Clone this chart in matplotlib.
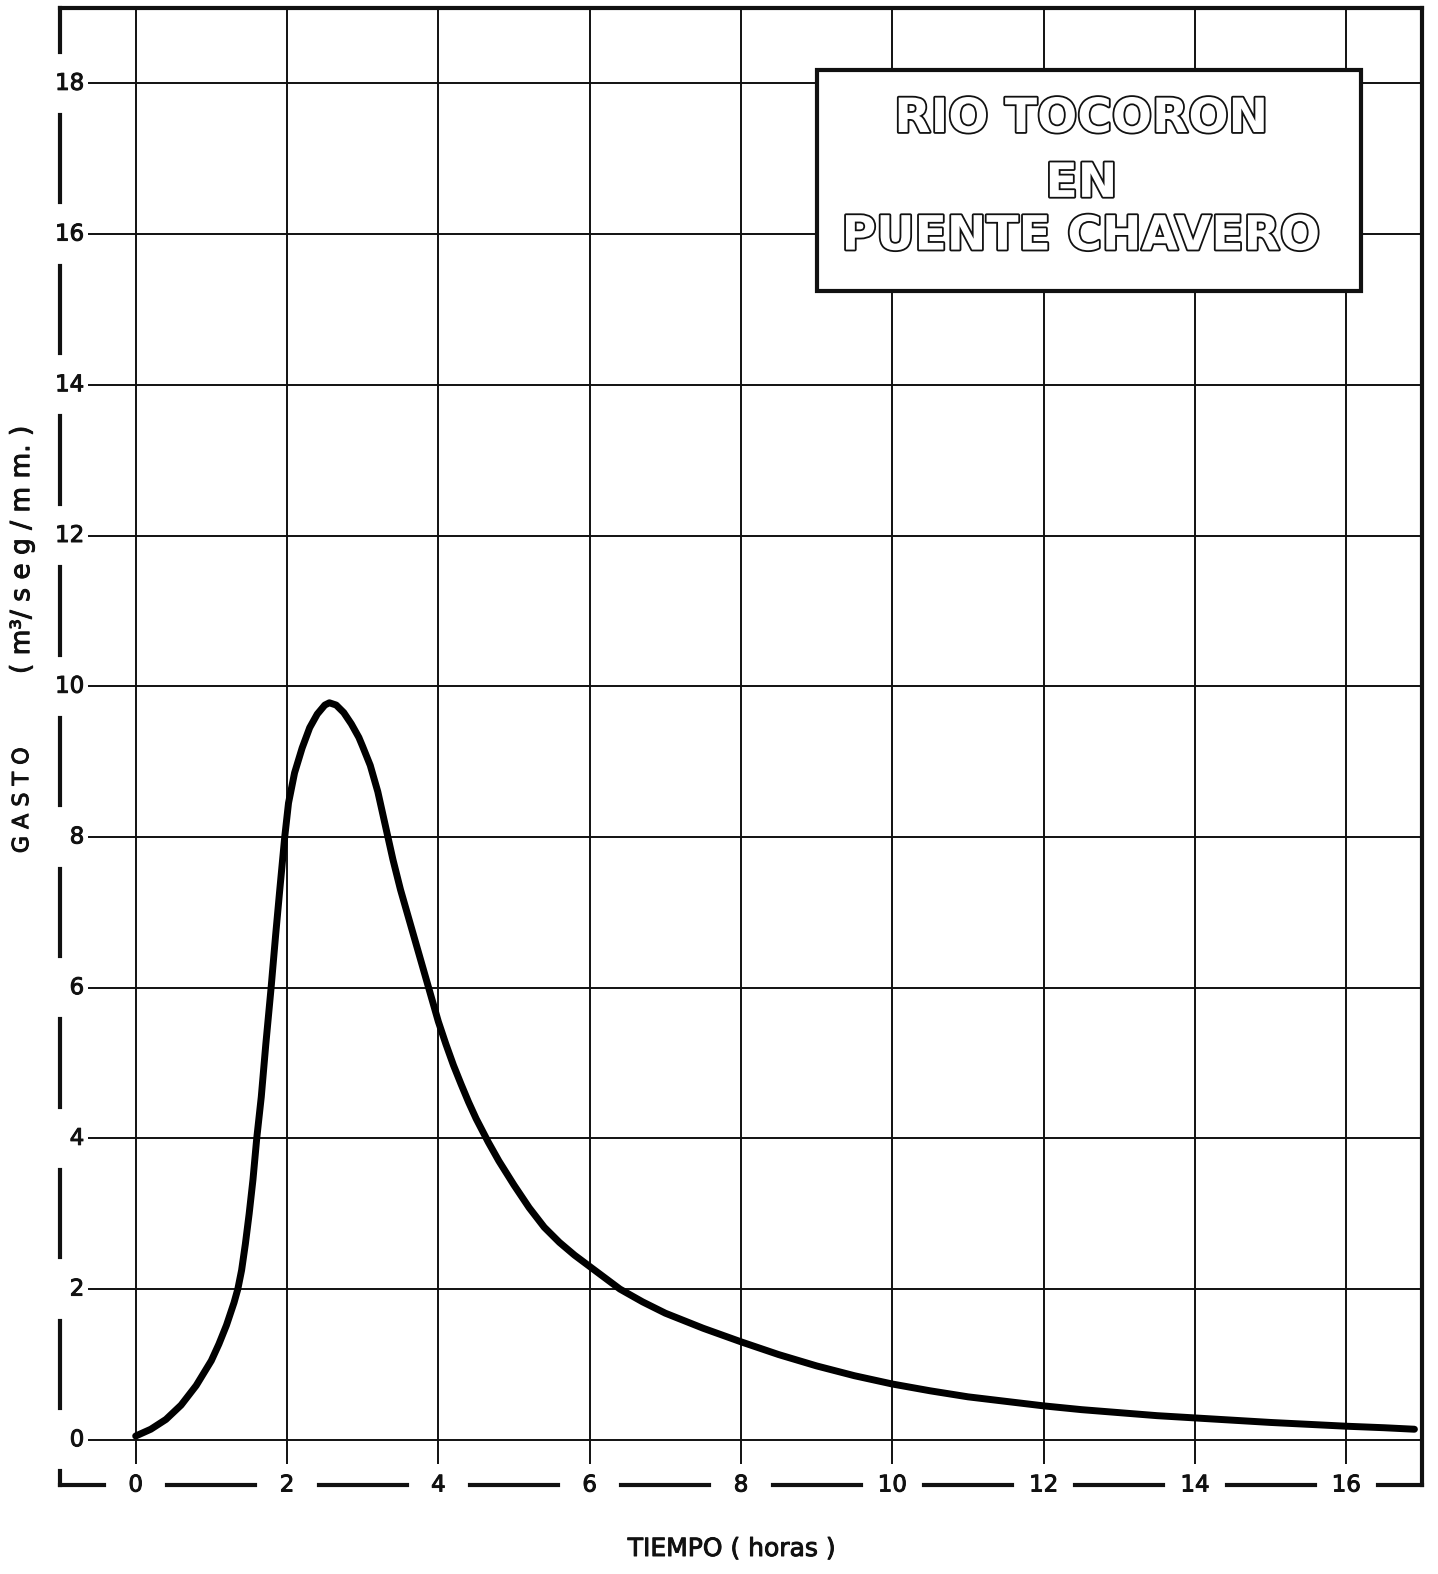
import matplotlib
matplotlib.use("Agg")
import matplotlib.pyplot as plt
import matplotlib.patheffects as pe
from matplotlib.patches import Rectangle

# Unit hydrograph, Rio Tocoron at Puente Chavero
hours = [0.0, 0.2, 0.4, 0.6, 0.8, 1.0, 1.1, 1.2, 1.3, 1.35, 1.4, 1.45, 1.5,
         1.55, 1.6, 1.66, 1.72, 1.79, 1.85, 1.9, 1.97, 2.02, 2.1, 2.2, 2.3,
         2.4, 2.5, 2.56, 2.65, 2.75, 2.85, 2.95, 3.0, 3.1, 3.2, 3.3, 3.4,
         3.5, 3.6, 3.7, 3.8, 3.9, 4.0, 4.1, 4.2, 4.3, 4.4, 4.5, 4.66, 4.8,
         5.0, 5.2, 5.4, 5.6, 5.8, 6.0, 6.2, 6.4, 6.7, 7.0, 7.5, 8.0, 8.5,
         9.0, 9.5, 10.0, 10.5, 11.0, 11.5, 12.0, 12.5, 13.0, 13.5, 14.0,
         14.5, 15.0, 15.5, 16.0, 16.5, 16.9]
discharge = [0.05, 0.14, 0.27, 0.46, 0.72, 1.05, 1.27, 1.52, 1.82, 2.0, 2.25,
             2.6, 3.0, 3.45, 4.0, 4.55, 5.25, 6.0, 6.7, 7.25, 8.0, 8.45, 8.85,
             9.18, 9.45, 9.63, 9.75, 9.78, 9.75, 9.65, 9.5, 9.32, 9.2, 8.95,
             8.6, 8.15, 7.7, 7.3, 6.95, 6.6, 6.25, 5.9, 5.55, 5.25, 4.97, 4.72,
             4.48, 4.26, 3.95, 3.7, 3.38, 3.08, 2.82, 2.62, 2.45, 2.3, 2.15,
             2.0, 1.83, 1.68, 1.48, 1.3, 1.13, 0.98, 0.85, 0.74, 0.65, 0.57,
             0.51, 0.45, 0.40, 0.36, 0.32, 0.29, 0.26, 0.23, 0.205, 0.18, 0.16,
             0.14]

x_ticks = [0, 2, 4, 6, 8, 10, 12, 14, 16]
y_ticks = [0, 2, 4, 6, 8, 10, 12, 14, 16, 18]
x_tick_labels = ["0", "2", "4", "6", "8", "10", "12", "14", "16"]
y_tick_labels = ["0", "2", "4", "6", "8", "10", "12", "14", "16", "18"]

title_lines = ["RIO TOCORON", "EN", "PUENTE CHAVERO"]
x_label = "TIEMPO ( horas )"
y_label_main = "G A S T O"
y_label_unit = "( m³/ s e g / m m. )"

INK = "#111111"
plt.rcParams["font.family"] = ["DejaVu Sans"]

fig = plt.figure(figsize=(14.38, 15.74), dpi=100)
fig.patch.set_facecolor("white")
ax = fig.add_axes([60 / 1438, 1 - 1485 / 1574, 1362 / 1438, 1477 / 1574])
x_min, x_max = -1.0, 17.0
y_min, y_max = -0.6, 19.0
ax.set_xlim(x_min, x_max)
ax.set_ylim(y_min, y_max)
ax.axis("off")

# grid
ax.vlines(x_ticks, -0.32, y_max, colors=INK, lw=1.4, zorder=1)
ax.hlines(y_ticks, -0.63, x_max, colors=INK, lw=1.4, zorder=1)

# frame: top and right solid
frame_kw = dict(color=INK, lw=3.0, solid_capstyle="projecting", clip_on=False, zorder=3)
ax.plot([x_min, x_max], [y_max, y_max], **frame_kw)
ax.plot([x_max, x_max], [y_min, y_max], **frame_kw)

# left frame broken at each tick label
gap_y = 0.42
left_pts = [y_min] + [v for t in y_ticks for v in (t - gap_y, t + gap_y)] + [y_max]
for a, b in zip(left_pts[0::2], left_pts[1::2]):
    ax.plot([x_min, x_min], [a, b], **frame_kw)

# bottom frame broken at each tick label
gap_x = 0.42
bottom_pts = [x_min] + [v for t in x_ticks for v in (t - gap_x, t + gap_x)] + [x_max]
for a, b in zip(bottom_pts[0::2], bottom_pts[1::2]):
    ax.plot([a, b], [y_min, y_min], **frame_kw)

ink_fx = [pe.Stroke(linewidth=0.7, foreground=INK), pe.Normal()]
tick_kw = dict(fontsize=16.5, color=INK, zorder=4, path_effects=ink_fx)
for t, lab in zip(y_ticks, y_tick_labels):
    ax.text(-0.68, t, lab, ha="right", va="center", **tick_kw)
for t, lab in zip(x_ticks, x_tick_labels):
    ax.text(t, y_min, lab, ha="center", va="center", **tick_kw)

# hydrograph
ax.plot(hours, discharge, color="black", lw=5.0, solid_joinstyle="round",
        solid_capstyle="round", zorder=5)

# title box
ax.add_patch(Rectangle((9.0, 15.25), 7.2, 2.93, facecolor="white",
                       edgecolor=INK, lw=3.0, zorder=6))
hollow = [pe.Stroke(linewidth=2.6, foreground=INK), pe.Normal()]
for yv, line in zip([17.52, 16.66, 15.96], title_lines):
    ax.text(12.5, yv, line, ha="center", va="center", fontsize=34,
            fontweight="bold", color="white", path_effects=hollow, zorder=7)

# axis titles
fig.text(732 / 1438, 1 - 1549 / 1574, x_label, ha="center", va="center",
         fontsize=18, color=INK, path_effects=ink_fx)
ax.text(-1.50, 8.49, y_label_main, rotation=90, ha="center", va="center",
        fontsize=16, color=INK, path_effects=ink_fx)
ax.text(-1.50, 11.81, y_label_unit, rotation=90, ha="center", va="center",
        fontsize=19, color=INK, path_effects=ink_fx)

fig.savefig("out.png", dpi=100, facecolor="white")
